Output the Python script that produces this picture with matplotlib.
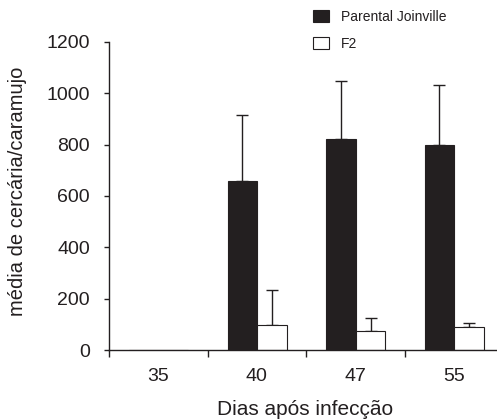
import numpy as np
import matplotlib
matplotlib.use("Agg")
import matplotlib.pyplot as plt
from matplotlib.patches import Patch

plt.rcParams['font.family'] = ['Liberation Sans', 'DejaVu Sans']

days = ["35", "40", "47", "55"]
parental = [0, 660, 822, 800]
parental_err = [0, 255, 227, 232]
f2 = [0, 97, 75, 88]
f2_err = [0, 137, 51, 16]
series_names = ["Parental Joinville", "F2"]
yticks = [0, 200, 400, 600, 800, 1000, 1200]

ink = '#231f20'
W, H = 497, 419
fig = plt.figure(figsize=(W / 100, H / 100), dpi=100)
ax = fig.add_axes([109 / W, 69 / H, 388 / W, 308 / H])

x = np.arange(len(days))
bw = 0.30
xb = x - 0.145
xw = x + 0.155
pv = np.array(parental, float)
fv = np.array(f2, float)
ax.bar(xb, pv, bw, color=ink, edgecolor=ink, linewidth=0.8, zorder=2)
ax.bar(xw, fv, bw, color='white', edgecolor=ink, linewidth=0.8, zorder=2)
m1 = pv > 0
m2 = fv > 0
ax.errorbar(xb[m1], pv[m1], yerr=[np.zeros(m1.sum()), np.array(parental_err)[m1]],
            fmt='none', ecolor=ink, elinewidth=1.0, capsize=4.5, capthick=1.0, zorder=1)
ax.errorbar(xw[m2], fv[m2], yerr=[np.zeros(m2.sum()), np.array(f2_err)[m2]],
            fmt='none', ecolor=ink, elinewidth=1.0, capsize=4.5, capthick=1.0, zorder=1)

ax.set_xlim(-0.5, -0.5 + 388 / 98.5)
ax.set_ylim(0, 1200)
ax.set_yticks(yticks)
ax.set_xticks(x)
ax.set_xticklabels(days)
ax.set_xticks(np.arange(len(days)) - 0.5, minor=True)
for s in ['top', 'right']:
    ax.spines[s].set_visible(False)
for s in ['left', 'bottom']:
    ax.spines[s].set_linewidth(1.0)
    ax.spines[s].set_color(ink)
ax.tick_params(axis='y', which='major', length=3.8, width=1.0, direction='out',
               pad=10, labelsize=14, colors=ink)
ax.tick_params(axis='x', which='major', length=0, pad=13, labelsize=14, colors=ink)
ax.tick_params(axis='x', which='minor', length=5, width=1.0, direction='out', colors=ink)

ax.set_ylabel("média de cercária/caramujo", fontsize=14.5, color=ink)
ax.set_xlabel("Dias após infecção", fontsize=15, color=ink)
ax.yaxis.set_label_coords(-0.211, 0.515)
ax.xaxis.set_label_coords(0.506, -0.162)

handles = [Patch(facecolor=ink, edgecolor=ink, linewidth=0.8),
           Patch(facecolor='white', edgecolor=ink, linewidth=0.8)]
fig.legend(handles, series_names, loc='upper left',
           bbox_to_anchor=(313 / W, 1 - 10 / H), frameon=False, fontsize=10,
           borderpad=0, borderaxespad=0, handlelength=1.15, handleheight=0.93,
           handletextpad=0.85, labelspacing=0.9, labelcolor=ink)

fig.savefig("out.png", dpi=100)
